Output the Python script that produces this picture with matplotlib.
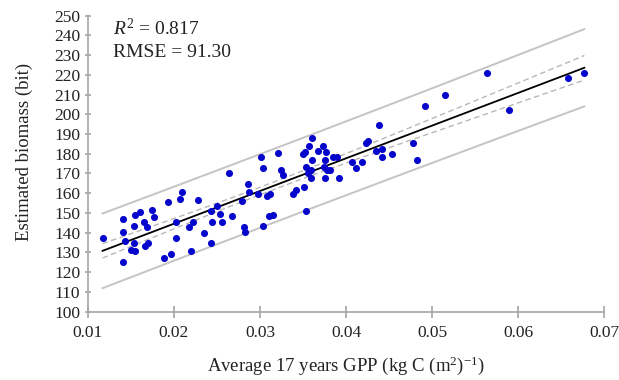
import numpy as np
import matplotlib
matplotlib.use('Agg')
import matplotlib.pyplot as plt

plt.rcParams['font.family'] = ['Liberation Serif', 'DejaVu Serif']
plt.rcParams['mathtext.fontset'] = 'custom'
plt.rcParams['mathtext.rm'] = 'Liberation Serif'
plt.rcParams['mathtext.it'] = 'Liberation Serif:italic'

# GPP (kg C m-2) vs estimated biomass (bit)
gpp = [0.0117, 0.0141, 0.0141, 0.0143, 0.0141, 0.0150, 0.0155, 0.0154, 0.0154, 0.0155,
       0.0160, 0.0165, 0.0169, 0.0166, 0.0170, 0.0174, 0.0177, 0.0188, 0.0197, 0.0193,
       0.0202, 0.0202, 0.0207, 0.0209, 0.0218, 0.0222, 0.0220, 0.0228, 0.0235, 0.0243,
       0.0244, 0.0243, 0.0250, 0.0253, 0.0256, 0.0264, 0.0268, 0.0279, 0.0281, 0.0283,
       0.0286, 0.0287, 0.0298, 0.0301, 0.0303, 0.0303, 0.0308, 0.0312, 0.0310, 0.0315,
       0.0321, 0.0325, 0.0327, 0.0338, 0.0342, 0.0350, 0.0352, 0.0351, 0.0353, 0.0357,
       0.0360, 0.0353, 0.0356, 0.0359, 0.0359, 0.0360, 0.0368, 0.0373, 0.0377, 0.0375,
       0.0374, 0.0378, 0.0381, 0.0375, 0.0385, 0.0390, 0.0392, 0.0407, 0.0412, 0.0419,
       0.0423, 0.0426, 0.0438, 0.0435, 0.0442, 0.0442, 0.0453, 0.0478, 0.0482, 0.0492,
       0.0515, 0.0564, 0.0590, 0.0658, 0.0677]
biomass = [137.4, 147.0, 140.4, 135.7, 125.1, 131.0, 130.6, 135.0, 143.6, 149.2,
           150.7, 145.2, 142.9, 133.3, 134.8, 151.7, 147.7, 127.4, 129.1, 155.6,
           145.2, 137.1, 157.3, 160.5, 142.9, 145.2, 130.6, 156.5, 139.6, 151.0,
           145.5, 134.8, 153.4, 149.4, 145.3, 170.3, 148.4, 155.8, 142.9, 140.4,
           164.9, 160.7, 159.5, 178.4, 172.7, 143.6, 158.8, 159.8, 148.4, 149.2,
           180.6, 172.0, 169.1, 159.5, 161.5, 180.1, 180.8, 162.9, 151.0, 183.8,
           188.0, 173.3, 170.3, 171.6, 167.9, 176.7, 181.4, 183.9, 180.8, 176.6,
           173.3, 172.0, 172.0, 167.7, 178.4, 178.4, 167.9, 175.8, 172.7, 175.8,
           185.5, 186.3, 194.4, 181.4, 182.3, 178.4, 180.1, 185.5, 176.7, 204.1,
           209.8, 220.9, 202.4, 218.4, 220.9]

x = np.array(gpp)
y = np.array(biomass)
n = len(x)

# linear fit with 95% confidence / prediction bands
b1, b0 = np.polyfit(x, y, 1)
resid = y - (b0 + b1 * x)
s = np.sqrt(np.sum(resid ** 2) / (n - 2))
t = 1.986
xs = np.sort(x)
yfit = b0 + b1 * xs
sxx = np.sum((x - x.mean()) ** 2)
conf = t * s * np.sqrt(1 / n + (xs - x.mean()) ** 2 / sxx)
pred = t * s * np.sqrt(1 + 1 / n + (xs - x.mean()) ** 2 / sxx)

fig = plt.figure(figsize=(6.19, 3.80), dpi=100)
ax = fig.add_axes([0.142, 0.180, 0.834, 0.779])

ax.plot(xs, yfit + pred, color='#c4c4c4', lw=1.4)
ax.plot(xs, yfit - pred, color='#c4c4c4', lw=1.4)
ax.plot(xs, yfit + conf, color='#b8b8b8', lw=1.0, ls=(0, (4, 2.5)))
ax.plot(xs, yfit - conf, color='#b8b8b8', lw=1.0, ls=(0, (4, 2.5)))
ax.plot(xs, yfit, color='black', lw=1.3)
ax.scatter(x, y, s=26, color='#0505cc', zorder=3, linewidths=0)

ax.set_xlim(0.01, 0.07)
ax.set_ylim(100, 250)
ax.set_xticks(np.arange(0.01, 0.0701, 0.01))
ax.set_xticklabels(['0.01', '0.02', '0.03', '0.04', '0.05', '0.06', '0.07'])
ax.set_yticks(np.arange(100, 251, 10))

for sp in ['top', 'right']:
    ax.spines[sp].set_visible(False)
for sp in ['left', 'bottom']:
    ax.spines[sp].set_color('#a6a6a6')
    ax.spines[sp].set_linewidth(1.2)
ax.tick_params(axis='both', colors='#a6a6a6', labelcolor='#222222', labelsize=12.5,
               direction='inout', width=1.2)
ax.tick_params(axis='y', length=5, pad=3)
ax.tick_params(axis='x', length=8, pad=6)

ax.set_xlabel('Average 17 years GPP (kg C (m$^2$)$^{-1}$)', fontsize=13.5, color='#222222')
ax.set_ylabel('Estimated biomass (bit)', fontsize=13.5, color='#222222')
ax.xaxis.set_label_coords(0.5, -0.145)
ax.yaxis.set_label_coords(-0.107, 0.539)

ax.text(0.0129, 243.5, '$R^2$ = 0.817', fontsize=14, va='center', color='#222222')
ax.text(0.0129, 231.4, 'RMSE = 91.30', fontsize=14, va='center', color='#222222')

fig.savefig('out.png', dpi=100)
